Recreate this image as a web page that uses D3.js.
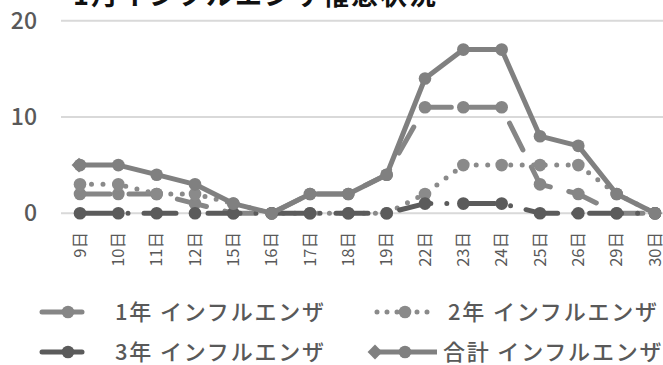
<!DOCTYPE html>
<html>
<head>
<meta charset="utf-8">
<script src="https://cdn.jsdelivr.net/npm/d3@7"></script>
<style>
body { margin: 0; background: #fff; }
svg { display: block; font-family: "Noto Sans CJK JP", "Noto Sans", sans-serif; }
</style>
</head>
<body>
<script>
var w = 663;
var h = 365;

var days = ["9日","10日","11日","12日","15日","16日","17日","18日","19日","22日","23日","24日","25日","26日","29日","30日"];
var grade1 = [2,2,2,1,0,0,2,2,4,11,11,11,3,2,0,0];
var grade2 = [3,3,2,2,1,0,0,0,0,2,5,5,5,5,2,0];
var grade3 = [0,0,0,0,0,0,0,0,0,1,1,1,0,0,0,0];
var total  = [5,5,4,3,1,0,2,2,4,14,17,17,8,7,2,0];
var yTicks = [0,10,20];

var series = [
    {name: "1年 インフルエンザ", values: grade1, color: "#868686", dash: "30,19"},
    {name: "2年 インフルエンザ", values: grade2, color: "#8a8a8a", dash: "0,11.5"},
    {name: "3年 インフルエンザ", values: grade3, color: "#5b5b5b", dash: "32,16,0,16"},
    {name: "合計 インフルエンザ", values: total, color: "#808080", dash: null}
];

var x = d3.scalePoint()
    .domain(days)
    .range([80, 655]);

var y = d3.scaleLinear()
    .domain([0, 20])
    .range([213.2, 20.7]);

var svg = d3.select("body")
    .append("svg")
    .attr("width", w)
    .attr("height", h);

// gridlines
svg.selectAll(".grid")
    .data(yTicks)
    .enter()
    .append("line")
    .attr("x1", 61)
    .attr("x2", w)
    .attr("y1", function(d) { return y(d); })
    .attr("y2", function(d) { return y(d); })
    .attr("stroke", "#d9d9d9")
    .attr("stroke-width", 2);

// y labels
svg.selectAll(".ylab")
    .data(yTicks)
    .enter()
    .append("text")
    .attr("x", 37)
    .attr("y", function(d) { return y(d); })
    .attr("dy", "0.36em")
    .attr("text-anchor", "end")
    .attr("fill", "#595959")
    .attr("font-size", 23)
    .attr("font-weight", 500)
    .text(function(d) { return d; });

// x labels, rotated
svg.selectAll(".xlab")
    .data(days)
    .enter()
    .append("text")
    .attr("transform", function(d) { return "translate(" + (x(d) + 5.5) + ",232) rotate(-90)"; })
    .attr("text-anchor", "end")
    .attr("fill", "#595959")
    .attr("font-size", 16.5)
    .text(function(d) { return d; });

// title
svg.append("text")
    .attr("x", 73)
    .attr("y", 5)
    .attr("font-size", 27)
    .attr("font-weight", "bold")
    .attr("letter-spacing", 2)
    .attr("fill", "#111")
    .text("1月インフルエンザ罹患状況");

var line = d3.line()
    .x(function(d, i) { return x(days[i]); })
    .y(function(d) { return y(d); });

series.forEach(function(s, si) {
    var g = svg.append("g");
    g.append("path")
        .attr("d", line(s.values))
        .attr("fill", "none")
        .attr("stroke", s.color)
        .attr("stroke-width", 5)
        .attr("stroke-linecap", "round")
        .attr("stroke-linejoin", "round")
        .attr("stroke-dasharray", s.dash);
    if (si == 3) {
        // diamond arrow at line start
        g.append("path")
            .attr("d", d3.symbol().type(d3.symbolDiamond2).size(140)())
            .attr("transform", "translate(" + (x(days[0]) - 1) + "," + y(s.values[0]) + ")")
            .attr("fill", s.color);
    }
    g.selectAll("circle")
        .data(s.values)
        .enter()
        .append("circle")
        .attr("cx", function(d, i) { return x(days[i]); })
        .attr("cy", function(d) { return y(d); })
        .attr("r", 6.3)
        .attr("fill", s.color);
});

// legend
var legendPos = [
    {lx: 40, ly: 312, tx: 115},
    {lx: 375, ly: 312, tx: 448},
    {lx: 40, ly: 352, tx: 115},
    {lx: 375, ly: 352, tx: 443}
];

series.forEach(function(s, i) {
    var p = legendPos[i];
    var g = svg.append("g");
    if (i == 0 || i == 2) {
        g.append("line")
            .attr("x1", p.lx + 2).attr("x2", p.lx + 42)
            .attr("y1", p.ly).attr("y2", p.ly)
            .attr("stroke", s.color).attr("stroke-width", 5)
            .attr("stroke-linecap", "round");
        g.append("circle")
            .attr("cx", p.lx + 28).attr("cy", p.ly).attr("r", 6.3)
            .attr("fill", s.color);
    } else if (i == 1) {
        g.append("line")
            .attr("x1", p.lx + 2).attr("x2", p.lx + 60)
            .attr("y1", p.ly).attr("y2", p.ly)
            .attr("stroke", s.color).attr("stroke-width", 5)
            .attr("stroke-linecap", "round")
            .attr("stroke-dasharray", "0,10");
        g.append("circle")
            .attr("cx", p.lx + 30).attr("cy", p.ly).attr("r", 6.3)
            .attr("fill", s.color);
    } else {
        g.append("line")
            .attr("x1", p.lx).attr("x2", p.lx + 62)
            .attr("y1", p.ly).attr("y2", p.ly)
            .attr("stroke", s.color).attr("stroke-width", 5);
        g.append("path")
            .attr("d", d3.symbol().type(d3.symbolDiamond2).size(140)())
            .attr("transform", "translate(" + p.lx + "," + p.ly + ")")
            .attr("fill", s.color);
        g.append("circle")
            .attr("cx", p.lx + 30).attr("cy", p.ly).attr("r", 6.3)
            .attr("fill", s.color);
    }
    g.append("text")
        .attr("x", p.tx)
        .attr("y", p.ly)
        .attr("dy", "0.36em")
        .attr("font-size", 22)
        .attr("font-weight", 500)
        .attr("letter-spacing", 1.8)
        .attr("fill", "#595959")
        .text(s.name);
});
</script>
</body>
</html>
